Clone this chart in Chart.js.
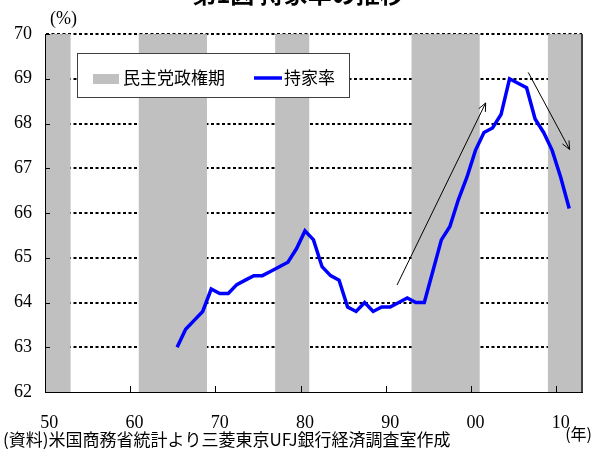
<!DOCTYPE html>
<html lang="ja">
<head>
<meta charset="utf-8">
<title>持家率の推移</title>
<script src="https://cdn.jsdelivr.net/npm/chart.js@4/dist/chart.umd.min.js"></script>
<style>
  html, body { margin: 0; padding: 0; background: #fff; }
  #wrap { position: relative; width: 594px; height: 449px; }
</style>
</head>
<body>
<div id="wrap"><canvas id="chart" width="594" height="449"></canvas></div>
<script>
// Category axis: one slot per calendar year
const firstYear = 1950;
const lastYear = 2012;
const categoryYears = [];
for (let y = firstYear; y <= lastYear; y++) categoryYears.push(y);

// US homeownership rate (%), annual, 1965-2011
const rateFirstYear = 1965;
const homeownershipRate = [
  63.0, 63.4, 63.6, 63.8, 64.3,
  64.2, 64.2, 64.4, 64.5, 64.6,
  64.6, 64.7, 64.8, 64.9, 65.2,
  65.6, 65.4, 64.8, 64.6, 64.5,
  63.9, 63.8, 64.0, 63.8, 63.9,
  63.9, 64.0, 64.1, 64.0, 64.0,
  64.7, 65.4, 65.7, 66.3, 66.8,
  67.4, 67.8, 67.9, 68.2, 69.0,
  68.9, 68.8, 68.1, 67.8, 67.4,
  66.8, 66.1
];

// Democratic administrations (first year, last year)
const democraticTerms = [[1950, 1952], [1961, 1968], [1977, 1980], [1993, 2000], [2009, 2012]];

// Decade tick labels
const decadeYears = [1950, 1960, 1970, 1980, 1990, 2000, 2010];
const decadeLabels = ['50', '60', '70', '80', '90', '00', '10'];

// Value axis
const yMin = 62, yMax = 70, yStep = 1;

// Trend arrows, in (year, %) units
const trendArrows = [
  { from: [1990.8, 64.39], to: [2001.2, 68.46] },
  { from: [2006.2, 69.14], to: [2011.05, 67.42] }
];

const seriesNames = { band: '民主党政権期', rate: '持家率' };

const rateSeries = categoryYears.map(y => {
  const i = y - rateFirstYear;
  return (i >= 0 && i < homeownershipRate.length) ? homeownershipRate[i] : null;
});

const SERIF = '"Liberation Serif", "Times New Roman", serif';
const CJK = '"Noto Sans CJK JP", "Noto Sans", sans-serif';

function yearIndex(year) { return year - firstYear; }

function drawArrow(ctx, x0, y0, x1, y1) {
  const ang = Math.atan2(y1 - y0, x1 - x0);
  const len = 9, spread = 0.42;
  ctx.beginPath();
  ctx.moveTo(x0, y0);
  ctx.lineTo(x1, y1);
  ctx.moveTo(x1 - len * Math.cos(ang - spread), y1 - len * Math.sin(ang - spread));
  ctx.lineTo(x1, y1);
  ctx.lineTo(x1 - len * Math.cos(ang + spread), y1 - len * Math.sin(ang + spread));
  ctx.stroke();
}

const decorations = {
  id: 'decorations',
  beforeDatasetsDraw(chart) {
    const { ctx, chartArea: a, scales: { x } } = chart;
    ctx.save();
    democraticTerms.forEach(([s, e]) => {
      const x0 = x.getPixelForValue(yearIndex(s) - 0.5);
      const x1 = x.getPixelForValue(yearIndex(e) + 0.5);
      ctx.fillStyle = '#c0c0c0';
      ctx.fillRect(x0, a.top, x1 - x0, a.bottom - a.top);
      ctx.strokeStyle = '#a6a6a6';
      ctx.lineWidth = 1;
      ctx.setLineDash([3, 2]);
      ctx.beginPath();
      ctx.moveTo(x0, a.top + 0.5);
      ctx.lineTo(x1, a.top + 0.5);
      ctx.stroke();
    });
    ctx.restore();
  },
  afterDraw(chart) {
    const { ctx, chartArea: a, scales: { x, y } } = chart;
    ctx.save();

    // right frame edge
    ctx.strokeStyle = '#404040';
    ctx.lineWidth = 2;
    ctx.beginPath();
    ctx.moveTo(a.right, a.top);
    ctx.lineTo(a.right, a.bottom);
    ctx.stroke();

    // inward tick marks
    ctx.strokeStyle = '#000';
    ctx.lineWidth = 1;
    for (let v = yMin; v <= yMax; v += yStep) {
      const py = Math.round(y.getPixelForValue(v)) + 0.5;
      ctx.beginPath();
      ctx.moveTo(a.left, py);
      ctx.lineTo(a.left + 5, py);
      ctx.stroke();
    }
    decadeYears.forEach(yr => {
      const px = Math.round(x.getPixelForValue(yearIndex(yr) - 0.5)) + 0.5;
      ctx.beginPath();
      ctx.moveTo(px, a.bottom);
      ctx.lineTo(px, a.bottom - 6);
      ctx.stroke();
    });

    // trend arrows
    ctx.strokeStyle = '#000';
    ctx.lineWidth = 1;
    trendArrows.forEach(t => {
      drawArrow(ctx,
        x.getPixelForValue(yearIndex(t.from[0])), y.getPixelForValue(t.from[1]),
        x.getPixelForValue(yearIndex(t.to[0])), y.getPixelForValue(t.to[1]));
    });

    // legend box
    const lx = a.left + 32, ly = a.top + 19, lw = 272, lh = 44;
    ctx.fillStyle = '#fff';
    ctx.fillRect(lx, ly, lw, lh);
    ctx.strokeStyle = '#404040';
    ctx.lineWidth = 1;
    ctx.strokeRect(lx + 0.5, ly + 0.5, lw, lh);
    const my = ly + 25;
    ctx.fillStyle = '#c0c0c0';
    ctx.fillRect(lx + 16, my - 4, 26, 10);
    ctx.fillStyle = '#000';
    ctx.font = '17px ' + CJK;
    ctx.textBaseline = 'middle';
    ctx.textAlign = 'left';
    ctx.fillText(seriesNames.band, lx + 46, my);
    ctx.strokeStyle = '#0000ff';
    ctx.lineWidth = 3.5;
    ctx.beginPath();
    ctx.moveTo(lx + 177, my);
    ctx.lineTo(lx + 205, my);
    ctx.stroke();
    ctx.fillText(seriesNames.rate, lx + 207, my);

    // title (top edge)
    ctx.font = 'bold 24px ' + CJK;
    ctx.textAlign = 'center';
    ctx.textBaseline = 'alphabetic';
    ctx.fillText('第1図 持家率の推移', 298, 3);

    // unit labels
    ctx.font = '18px ' + SERIF;
    ctx.textAlign = 'left';
    ctx.textBaseline = 'middle';
    ctx.fillText('(%)', 50, 19);
    ctx.font = '16px ' + CJK;
    ctx.textAlign = 'right';
    ctx.fillText('(年)', 592, 434);

    // source note
    ctx.textAlign = 'left';
    ctx.font = '17px ' + CJK;
    ctx.fillText('(資料)米国商務省統計より三菱東京UFJ銀行経済調査室作成', 3, 440);
    ctx.restore();
  }
};

new Chart(document.getElementById('chart'), {
  type: 'line',
  data: {
    labels: categoryYears.map(String),
    datasets: [{
      label: seriesNames.rate,
      data: rateSeries,
      borderColor: '#0000ff',
      backgroundColor: '#0000ff',
      borderWidth: 3.5,
      borderJoinStyle: 'miter',
      pointRadius: 0,
      tension: 0,
      fill: false
    }]
  },
  options: {
    responsive: false,
    devicePixelRatio: 1,
    animation: false,
    layout: { padding: { top: 34, right: 12, left: 0, bottom: 0 } },
    plugins: { legend: { display: false }, title: { display: false }, tooltip: { enabled: false } },
    scales: {
      x: {
        type: 'category',
        offset: true,
        grid: { display: false, drawTicks: false },
        border: { display: true, color: '#000', width: 1, z: 1 },
        ticks: {
          autoSkip: false,
          maxRotation: 0,
          padding: 20,
          color: '#000',
          font: { family: SERIF, size: 18 },
          callback: (v, i) => {
            const k = decadeYears.indexOf(categoryYears[i]);
            return k >= 0 ? decadeLabels[k] : null;
          }
        },
        afterFit: s => { s.height = 57; }
      },
      y: {
        min: yMin,
        max: yMax,
        grid: {
          drawTicks: false,
          lineWidth: 2,
          color: c => (c.tick && c.tick.value === yMin) ? 'rgba(0,0,0,0)' : '#000'
        },
        border: { display: true, color: '#000', width: 1, z: 1, dash: [3, 2.5] },
        ticks: {
          stepSize: yStep,
          padding: 13,
          color: '#000',
          font: { family: SERIF, size: 18 }
        },
        afterFit: s => { s.width = 45; }
      }
    }
  },
  plugins: [decorations]
});
</script>
</body>
</html>
